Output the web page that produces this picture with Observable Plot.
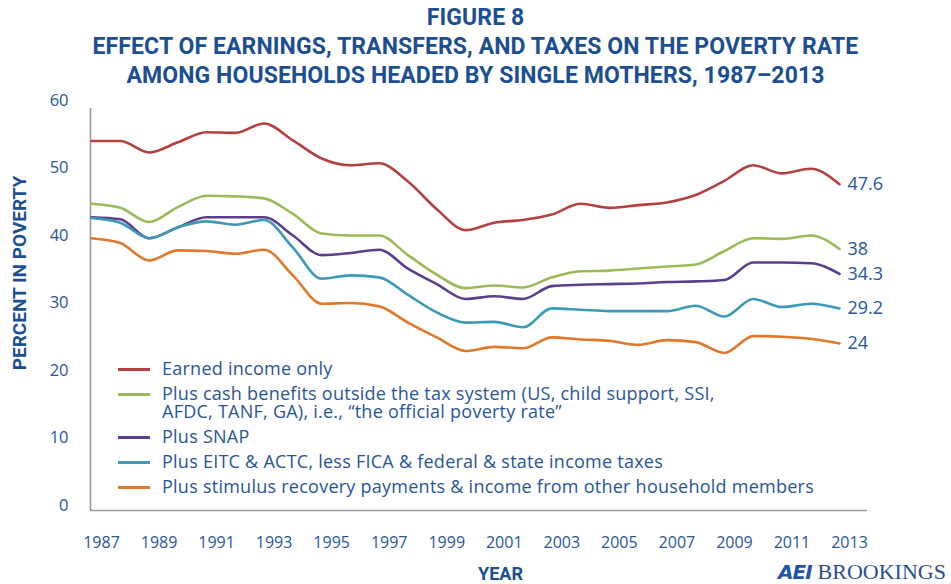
<!DOCTYPE html>
<html>
<head>
<meta charset="utf-8">
<script src="https://cdn.jsdelivr.net/npm/d3@7"></script>
<script src="https://cdn.jsdelivr.net/npm/@observablehq/plot@0.6"></script>
<style>
  html, body { margin: 0; padding: 0; background: #fff; }
  #wrap { position: relative; width: 951px; height: 584px; overflow: hidden; font-family: "Open Sans", sans-serif; }
  #title { height: 84px; box-sizing: border-box; padding-top: 3px; text-align: center; color: #1b4f91;
           font-family: Roboto, sans-serif; font-weight: 700; font-size: 23px; line-height: 29px; letter-spacing: 0.1px; }
  #legend { position: absolute; left: 118px; top: 359px; color: #27569b; font-size: 18px; line-height: 18px; letter-spacing: 0.25px; }
  .row { display: flex; align-items: flex-start; margin-bottom: 7px; }
  .sw { width: 32px; height: 3px; margin-top: 9px; margin-right: 12px; flex: none; }
  #logo { position: absolute; left: 778px; top: 559px; color: #22509a; white-space: nowrap; }
  #logo .aei { font-family: "DejaVu Sans", sans-serif; font-weight: 900; font-style: italic; font-size: 20px; letter-spacing: -1px; color: #1f55a6; }
  #logo .brk { font-family: "Liberation Serif", serif; font-size: 22px; margin-left: 6px; color: #2a4f8f; }
</style>
</head>
<body>
<div id="wrap">
  <div id="title">FIGURE 8<br>EFFECT OF EARNINGS, TRANSFERS, AND TAXES ON THE POVERTY RATE<br>AMONG HOUSEHOLDS HEADED BY SINGLE MOTHERS, 1987–2013</div>
  <div id="chart"></div>
  <div id="legend"></div>
  <div id="logo"><span class="aei">AEI</span><span class="brk">BROOKINGS</span></div>
</div>
<script>
const years = [1987, 1988, 1989, 1990, 1991, 1992, 1993, 1994, 1995, 1996, 1997, 1998, 1999, 2000,
               2001, 2002, 2003, 2004, 2005, 2006, 2007, 2008, 2009, 2010, 2011, 2012, 2013];
const earned   = [54.0, 54.0, 52.3, 53.8, 55.3, 55.2, 56.6, 54.1, 51.4, 50.4, 50.7, 48.0, 43.9, 40.8,
                  41.9, 42.3, 43.1, 44.7, 44.1, 44.5, 44.9, 46.0, 48.1, 50.4, 49.2, 49.9, 47.6];
const official = [44.7, 44.1, 42.0, 44.2, 45.9, 45.8, 45.5, 43.2, 40.3, 40.0, 40.0, 37.1, 34.2, 32.2,
                  32.6, 32.3, 33.8, 34.7, 34.8, 35.1, 35.4, 35.7, 37.7, 39.6, 39.5, 40.0, 38.0];
const snap     = [42.7, 42.4, 39.6, 41.2, 42.7, 42.7, 42.7, 40.0, 37.1, 37.4, 37.9, 35.1, 32.8, 30.6,
                  31.0, 30.6, 32.5, 32.7, 32.8, 32.9, 33.1, 33.2, 33.4, 36.0, 36.0, 35.9, 34.3];
const eitc     = [42.6, 41.9, 39.6, 41.2, 42.1, 41.6, 42.3, 38.2, 33.6, 34.1, 33.8, 31.2, 28.6, 27.1,
                  27.2, 26.4, 29.2, 29.0, 28.8, 28.8, 28.8, 29.6, 28.0, 30.6, 29.4, 29.9, 29.2];
const stimulus = [39.6, 38.9, 36.3, 37.8, 37.7, 37.3, 37.9, 34.1, 29.9, 30.0, 29.5, 27.1, 24.9, 22.9,
                  23.5, 23.3, 24.9, 24.6, 24.4, 23.8, 24.5, 24.2, 22.6, 25.1, 25.0, 24.7, 24.0];

const seriesNames = [
  "Earned income only",
  "Plus cash benefits outside the tax system (US, child support, SSI, AFDC, TANF, GA), i.e., “the official poverty rate”",
  "Plus SNAP",
  "Plus EITC & ACTC, less FICA & federal & state income taxes",
  "Plus stimulus recovery payments & income from other household members"
];
const legendLines = [
  ["Earned income only"],
  ["Plus cash benefits outside the tax system (US, child support, SSI,", "AFDC, TANF, GA), i.e., “the official poverty rate”"],
  ["Plus SNAP"],
  ["Plus EITC & ACTC, less FICA & federal & state income taxes"],
  ["Plus stimulus recovery payments & income from other household members"]
];
const seriesValues = [earned, official, snap, eitc, stimulus];
const seriesColors = ["#b4413f", "#9bbb59", "#5b3f8c", "#3b9ab5", "#e2782a"];
const yTicks = [0, 10, 20, 30, 40, 50, 60];
const xTicks = [1987, 1989, 1991, 1993, 1995, 1997, 1999, 2001, 2003, 2005, 2007, 2009, 2011, 2013];
const axisFloor = -0.74;   // frame baseline sits slightly below zero
const axisTop = 58.8;      // left frame line top
const xAxisEnd = 2014;     // bottom frame line extends past last year

const data = years.flatMap((yr, i) => seriesNames.map((name, s) => ({year: yr, value: seriesValues[s][i], name})));
const ends = data.filter(d => d.year === years[years.length - 1]);

const blue = "#27569b";
const chart = Plot.plot({
  width: 951,
  height: 500,
  marginLeft: 91,
  marginRight: 112,
  marginTop: 16,
  marginBottom: 79,
  style: {fontFamily: "Open Sans, sans-serif", color: blue, background: "transparent"},
  x: {domain: [1987, 2013]},
  y: {domain: [0, 60]},
  color: {domain: seriesNames, range: seriesColors},
  marks: [
    Plot.ruleX([1987], {y1: axisTop, y2: axisFloor, stroke: "#9a9a9a", strokeWidth: 1.6, dx: -1}),
    Plot.ruleY([axisFloor], {x1: 1987, x2: xAxisEnd, stroke: "#9a9a9a", strokeWidth: 1.6, dx: -1}),
    Plot.axisY({ticks: yTicks, tickSize: 0, tickPadding: 23, fontSize: 16.5, label: null}),
    Plot.axisX({ticks: xTicks, tickSize: 0, tickPadding: 31, fontSize: 16, dx: 10, tickFormat: d => String(d), label: null}),
    Plot.line(data, {x: "year", y: "value", z: "name", stroke: "name", strokeWidth: 2.6, curve: "monotone-x"}),
    Plot.text(ends, {x: "year", y: "value", text: d => String(d.value), dx: 8, dy: 0, textAnchor: "start",
                     fontSize: 18, fill: blue}),
    Plot.text(["PERCENT IN POVERTY"], {frameAnchor: "left", textAnchor: "middle", rotate: -90, dx: -72, dy: -30,
                     fontSize: 19, fontWeight: 700, fill: "#1b4f91", fontFamily: "Roboto, sans-serif"}),
    Plot.text(["YEAR"], {frameAnchor: "bottom", textAnchor: "middle", lineAnchor: "middle", dx: 35, dy: 69,
                     fontSize: 18, fontWeight: 700, fill: "#1b4f91", fontFamily: "Roboto, sans-serif"})
  ]
});
document.getElementById("chart").appendChild(chart);

const legend = document.getElementById("legend");
legendLines.forEach((lines, i) => {
  const row = document.createElement("div");
  row.className = "row";
  const sw = document.createElement("div");
  sw.className = "sw";
  sw.style.background = seriesColors[i];
  const txt = document.createElement("div");
  txt.innerHTML = lines.map(l => l.replace(/&/g, "&amp;")).join("<br>");
  row.appendChild(sw);
  row.appendChild(txt);
  legend.appendChild(row);
});
</script>
</body>
</html>
